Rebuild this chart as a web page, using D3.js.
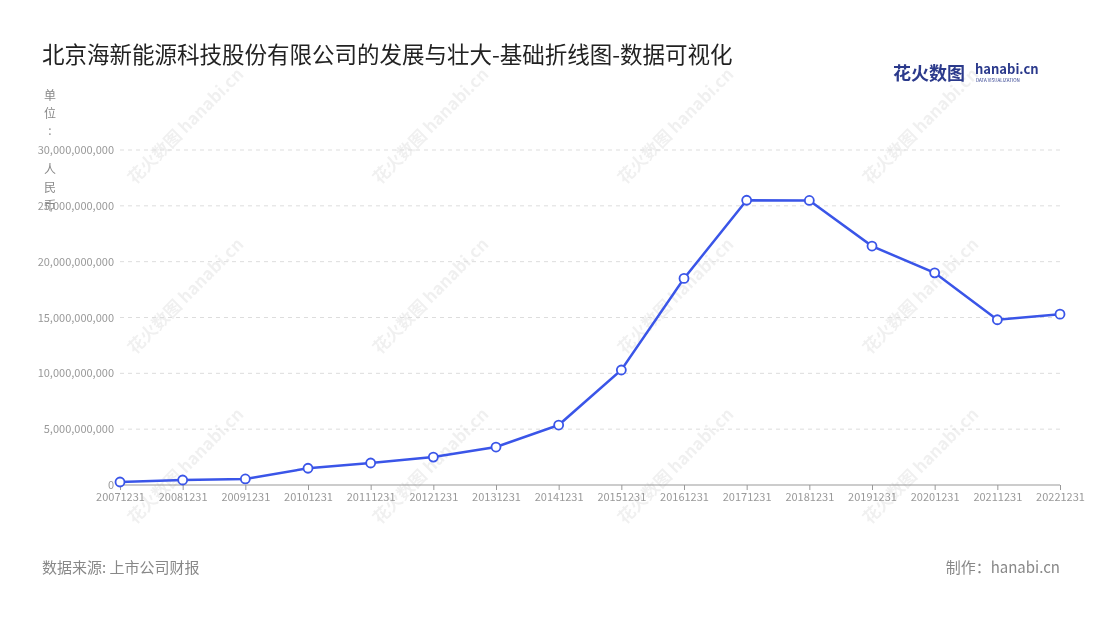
<!DOCTYPE html>
<html><head><meta charset="utf-8">
<script src="https://cdn.jsdelivr.net/npm/d3@7"></script>
<style>body{margin:0;background:#fff;font-family:"Noto Sans CJK SC","Noto Sans",sans-serif}</style>
</head><body><svg id="c" width="1100" height="620"></svg>
<script>
const categories=["20071231","20081231","20091231","20101231","20111231","20121231","20131231","20141231","20151231","20161231","20171231","20181231","20191231","20201231","20211231","20221231"];
const values=[0.27e9,0.45e9,0.54e9,1.5e9,1.97e9,2.5e9,3.4e9,5.37e9,10.3e9,18.5e9,25.5e9,25.48e9,21.4e9,19.0e9,14.8e9,15.3e9];
const yTicks=[0,5e9,10e9,15e9,20e9,25e9,30e9];
const svg=d3.select("#c");
const font='"Noto Sans CJK SC","Noto Sans",sans-serif';
const wm=svg.append("g").attr("opacity",0.06);
[[135,185],[380,185],[625,185],[870,185],[135,355],[380,355],[625,355],[870,355],[135,525],[380,525],[625,525],[870,525]].forEach(([x,y])=>{
 wm.append("text").attr("transform",`translate(${x},${y}) rotate(-45)`).attr("font-size",17).attr("font-weight","bold").attr("fill","#000").attr("font-family",font).text("花火数图 hanabi.cn");
});
const x=d3.scalePoint().domain(categories).range([120,1060]);
const y=d3.scaleLinear().domain([0,30e9]).range([485,150]);
svg.append("g").selectAll("line").data(yTicks.slice(1)).join("line")
 .attr("x1",120).attr("x2",1060).attr("y1",d=>y(d)).attr("y2",d=>y(d))
 .attr("stroke","#ddd").attr("stroke-dasharray","4,4");
const ya=svg.append("g").attr("transform","translate(120,0)").call(d3.axisLeft(y).tickValues(yTicks).tickFormat(d3.format(",")).tickSize(0).tickPadding(6));
ya.select(".domain").remove();
ya.selectAll("text").attr("fill","#999").attr("font-size",11).attr("font-family",font);
const xa=svg.append("g").attr("transform","translate(0,485)").call(d3.axisBottom(x).tickSize(5).tickPadding(3));
xa.select(".domain").attr("stroke","#999").attr("d","M120,0H1060");
xa.selectAll("line").attr("stroke","#999");
xa.selectAll("text").attr("fill","#999").attr("font-size",11).attr("font-family",font);
svg.append("path").datum(values).attr("fill","none").attr("stroke","#3a55e8").attr("stroke-width",2.5)
 .attr("d",d3.line().x((d,i)=>x(categories[i])).y(d=>y(d)));
svg.append("g").selectAll("circle").data(values).join("circle")
 .attr("cx",(d,i)=>x(categories[i])).attr("cy",d=>y(d)).attr("r",4.5)
 .attr("fill","#fff").attr("stroke","#3a55e8").attr("stroke-width",1.8);
svg.append("text").attr("x",42).attr("y",63).attr("font-size",22.5).attr("fill","#222").attr("font-family",font)
 .text("北京海新能源科技股份有限公司的发展与壮大-基础折线图-数据可视化");
[["单",100],["位",118],[":",135],["人",174],["民",192],["币",210]].forEach(([c,yy])=>{
 svg.append("text").attr("x",50).attr("y",yy).attr("text-anchor","middle").attr("font-size",12).attr("fill","#888").attr("font-family",font).text(c);
});
svg.append("text").attr("x",42).attr("y",573).attr("font-size",15).attr("fill","#888").attr("font-family",font).text("数据来源: 上市公司财报");
svg.append("text").attr("x",1060).attr("y",573).attr("text-anchor","end").attr("font-size",15).attr("fill","#888").attr("font-family",font).text("制作：hanabi.cn");
svg.append("text").attr("x",893).attr("y",80).attr("font-size",18).attr("font-weight","bold").attr("fill","#2b3a8c").attr("font-family",font).text("花火数图");
svg.append("text").attr("x",975).attr("y",74).attr("font-size",13).attr("font-weight","bold").attr("fill","#2b3a8c").attr("font-family",font).text("hanabi.cn");
svg.append("text").attr("x",976).attr("y",82).attr("font-size",4.5).attr("fill","#2b3a8c").attr("font-family",font).text("DATA VISUALIZATION");
</script></body></html>
